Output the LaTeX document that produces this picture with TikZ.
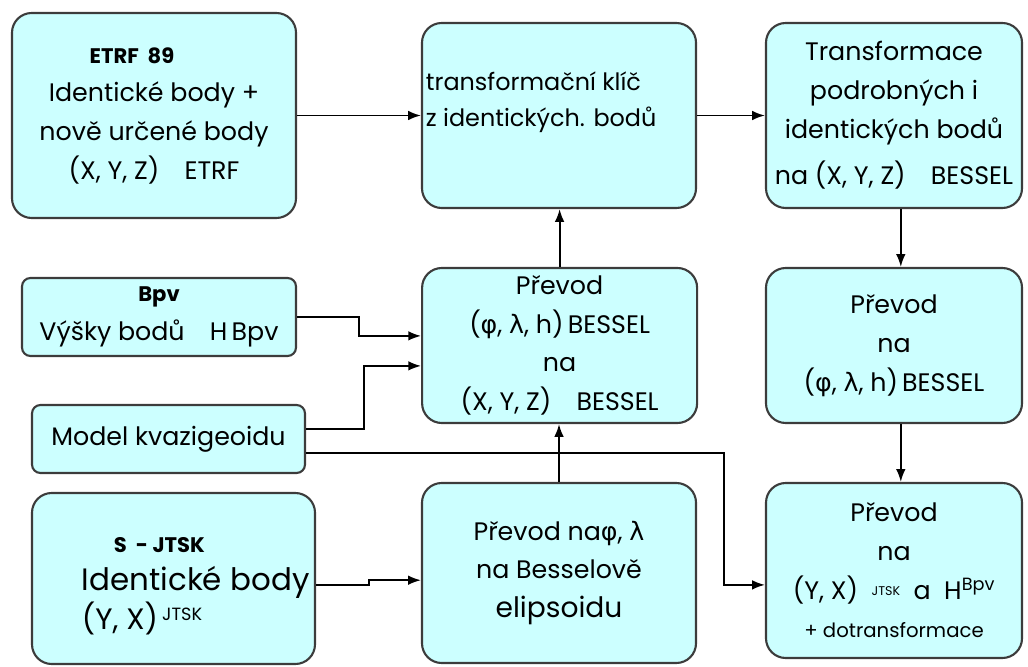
\documentclass[tikz,border=0pt]{standalone}
\usepackage{fontspec}
\setmainfont{Poppins}
\newfontfamily\grk{DejaVu Sans}
\usetikzlibrary{arrows.meta,positioning,calc}
\definecolor{boxcyan}{RGB}{204,255,255}
\definecolor{boxline}{RGB}{60,60,60}
\newcommand{\gphi}{{\grk φ}}
\newcommand{\glam}{{\grk λ}}
\newcommand{\headfont}{\bfseries\fontsize{15}{20}\selectfont}

\begin{document}
\begin{tikzpicture}[
  >={Latex[length=3.2mm,width=2.4mm]},
  every node/.style={font=\fontsize{18}{27.5}\selectfont},
  stage/.style={rectangle, rounded corners=14pt, draw=boxline, line width=1.5pt,
                fill=boxcyan, align=center},
  source/.style={stage, rounded corners=6pt},
  link/.style={->, line width=1.3pt},
]
  \useasboundingbox (0,0) rectangle (25.7,16.65);

  % Top row
  \node[stage, minimum width=7.1cm, minimum height=5.125cm] (etrf) at (3.85,13.7625)
    {{\headfont ETRF\ \ 89}\hspace*{1.1cm}\mbox{}\\Identické body +\\nově určené body\\(X, Y, Z)\quad ETRF};
  \node[stage, minimum width=6.85cm, minimum height=4.625cm] (klic) at (13.975,13.7625) {};
  \node[anchor=west, align=left, font=\fontsize{17}{25}\selectfont] (klictxt)
    at ([yshift=0.33cm]klic.west) {transformační klíč\\z identických. bodů};
  \node[stage, minimum width=6.4cm, minimum height=4.625cm] (trbes) at (22.35,13.7625)
    {Transformace\\podrobných i\\identických bodů\\[0.2cm]na (X, Y, Z)\quad BESSEL};

  % Middle row
  \node[source, minimum width=6.85cm, minimum height=1.95cm] (bpv) at (3.975,8.725)
    {{\headfont Bpv}\\Výšky bodů\quad H\,Bpv};
  \node[source, minimum width=6.825cm, minimum height=1.7cm] (kvazi) at (4.2125,5.675)
    {Model kvazigeoidu};
  \node[stage, minimum width=6.875cm, minimum height=3.875cm] (prxyz) at (13.99,8.0125)
    {Převod\\(\gphi, \glam, h)\,BESSEL\\na\\(X, Y, Z)\quad BESSEL};
  \node[stage, minimum width=6.4cm, minimum height=3.875cm] (prblh) at (22.35,8.0125)
    {Převod\\na\\(\gphi, \glam, h)\,BESSEL};

  % Bottom row
  \node[stage, minimum width=7.075cm, minimum height=4.275cm] (sjtsk) at (4.3375,2.1875) {};
  \node[anchor=west, align=left] (sjtsktxt) at ([xshift=1.15cm, yshift=-0.19cm]sjtsk.west)
    {\hspace{0.8cm}{\headfont S\ \ -\ JTSK}\\{\fontsize{22}{30}\selectfont Identické body}\\
     {\fontsize{21}{26}\selectfont (Y, X)}\,\textsuperscript{JTSK}};
  \node[stage, minimum width=6.85cm, minimum height=4.5cm] (elips) at (13.975,2.325)
    {Převod na\gphi, \glam\\na Besselově\\{\fontsize{20}{28}\selectfont elipsoidu}};
  \node[stage, minimum width=6.4cm, minimum height=4.375cm] (jtsk) at (22.35,2.3875)
    {Převod\\na\\(Y, X)\ \ \raisebox{3pt}{\fontsize{9}{10}\selectfont JTSK}\ \ a\ \ H\textsuperscript{Bpv}\\
     {\fontsize{14}{20}\selectfont + dotransformace}};

  % Connectors
  \draw[link] (etrf) -- (klic);
  \draw[link] (klic) -- (trbes);
  \draw[link] ([xshift=0.17cm]trbes.south) -- ([xshift=0.17cm]prblh.north);
  \draw[link] ([xshift=0.17cm]prblh.south) -- ([xshift=0.17cm]jtsk.north);
  \draw[link] (prxyz.north) -- (prxyz.north |- klic.south);
  \draw[link] (elips.north) -- (elips.north |- prxyz.south);
  \draw[link] (bpv.east) -- ++(1.55,0) |- ([yshift=0.24cm]prxyz.west);
  \draw[link] ([yshift=0.25cm]kvazi.east) -- ++(1.45,0) |- ([yshift=-0.51cm]prxyz.west);
  \draw[link] ([yshift=-0.35cm]kvazi.east) -- ++(10.45,0) |- ([yshift=-0.36cm]jtsk.west);
  \draw[link] ([yshift=-0.16cm]sjtsk.east) -- ++(1.325,0) |- ([yshift=-0.18cm]elips.west);
\end{tikzpicture}
\end{document}
